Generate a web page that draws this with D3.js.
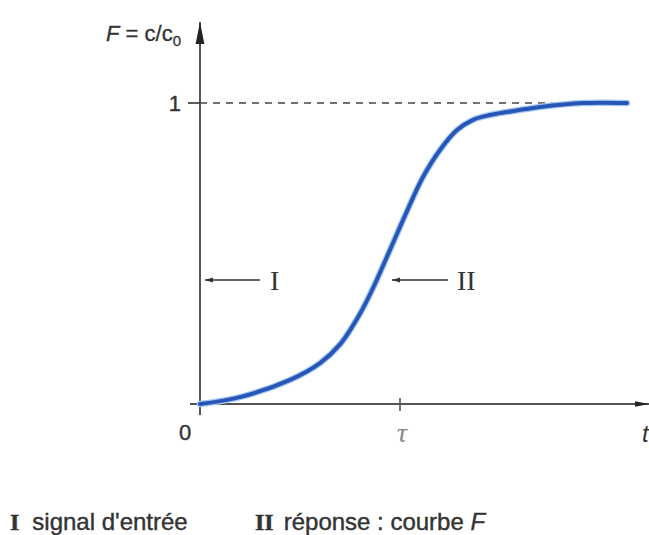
<!DOCTYPE html>
<html>
<head>
<meta charset="utf-8">
<script src="https://cdn.jsdelivr.net/npm/d3@7"></script>
<style>
  body { margin: 0; background: #fff; }
  svg { display: block; }
</style>
</head>
<body>
<svg id="chart" width="649" height="535"></svg>
<script>
// response curve F = c/c0, time in units of tau
const tValues = [0, 0.2, 0.45, 0.6, 0.7, 0.8, 0.865, 0.95, 1.035, 1.115, 1.2, 1.285, 1.365, 1.45, 1.535, 1.7, 1.915, 2.135];
const fValues = [0, 0.023, 0.08, 0.136, 0.198, 0.3, 0.385, 0.512, 0.641, 0.754, 0.844, 0.91, 0.944, 0.96, 0.97, 0.987, 1.0, 1.0];
const xTicks = [{ v: 0, label: "0" }, { v: 1, label: "τ" }];
const yTicks = [{ v: 1, label: "1" }];
const legendItems = ["signal d'entrée", "réponse : courbe "];

const svg = d3.select("#chart");
const x = d3.scaleLinear().domain([0, 1]).range([200, 400]);
const y = d3.scaleLinear().domain([0, 1]).range([404, 103]);

const axisColor = "#555";
const sans = "Liberation Sans, Arial, sans-serif";
const serif = "Liberation Serif, Times New Roman, serif";

// arrow heads
const defs = svg.append("defs");
function marker(id, len, fill) {
  defs.append("marker")
    .attr("id", id)
    .attr("viewBox", "0 0 10 10").attr("refX", 10).attr("refY", 5)
    .attr("markerWidth", len).attr("markerHeight", len).attr("markerUnits", "userSpaceOnUse")
    .attr("orient", "auto")
    .append("path").attr("d", "M0,3 L10,5 L0,7 Z").attr("fill", fill);
}
marker("yArrow", 22, "#222");
marker("xArrow", 14, "#222");
defs.append("marker")
  .attr("id", "smallArrow")
  .attr("viewBox", "0 0 10 10").attr("refX", 10).attr("refY", 5)
  .attr("markerWidth", 8).attr("markerHeight", 8).attr("markerUnits", "userSpaceOnUse")
  .attr("orient", "auto")
  .append("path").attr("d", "M0,2 L10,5 L0,8 Z").attr("fill", "#333");

// dashed asymptote F = 1
svg.append("line")
  .attr("x1", x(0)).attr("x2", x(2))
  .attr("y1", y(1)).attr("y2", y(1))
  .attr("stroke", "#444").attr("stroke-width", 1.6)
  .attr("stroke-dasharray", "7,6");

// axes
svg.append("line")
  .attr("x1", x(0)).attr("x2", x(0))
  .attr("y1", 415).attr("y2", 22)
  .attr("stroke", axisColor).attr("stroke-width", 2)
  .attr("marker-end", "url(#yArrow)");
svg.append("line")
  .attr("x1", 190).attr("x2", 649)
  .attr("y1", y(0)).attr("y2", y(0))
  .attr("stroke", axisColor).attr("stroke-width", 2)
  .attr("marker-end", "url(#xArrow)");

// ticks
svg.selectAll(".ytick").data(yTicks).enter().append("line")
  .attr("x1", x(0) - 12).attr("x2", x(0))
  .attr("y1", d => y(d.v)).attr("y2", d => y(d.v))
  .attr("stroke", "#333").attr("stroke-width", 1.6);
svg.selectAll(".ylab").data(yTicks).enter().append("text")
  .attr("x", x(0) - 19).attr("y", d => y(d.v) + 8)
  .attr("text-anchor", "end")
  .attr("font-family", sans).attr("font-size", 22).attr("fill", "#333")
  .attr("stroke", "#333").attr("stroke-width", 0.4)
  .text(d => d.label);

svg.selectAll(".xtick").data(xTicks.filter(d => d.v > 0)).enter().append("line")
  .attr("x1", d => x(d.v)).attr("x2", d => x(d.v))
  .attr("y1", y(0) - 6).attr("y2", y(0) + 7)
  .attr("stroke", "#555").attr("stroke-width", 1.6);
svg.selectAll(".xlab").data(xTicks).enter().append("text")
  .attr("x", d => d.v === 0 ? x(d.v) - 15 : x(d.v) + 2)
  .attr("y", d => d.v === 0 ? 440 : 442)
  .attr("text-anchor", "middle")
  .attr("font-family", d => d.v === 0 ? sans : serif)
  .attr("font-style", d => d.v === 0 ? "normal" : "italic")
  .attr("font-size", d => d.v === 0 ? 22 : 28)
  .attr("fill", d => d.v === 0 ? "#333" : "#888")
  .attr("stroke", d => d.v === 0 ? "#333" : "none").attr("stroke-width", 0.4)
  .text(d => d.label);

// axis name
const yName = svg.append("text")
  .attr("x", 181).attr("y", 41)
  .attr("text-anchor", "end")
  .attr("font-family", sans).attr("font-size", 22).attr("fill", "#333")
  .attr("stroke", "#333").attr("stroke-width", 0.3);
yName.append("tspan").attr("font-style", "italic").text("F");
yName.append("tspan").text(" = c/c");
yName.append("tspan").attr("font-size", 15).attr("dy", 5).text("0");

svg.append("text")
  .attr("x", 642).attr("y", 442)
  .attr("font-family", sans).attr("font-size", 24)
  .attr("font-style", "italic").attr("fill", "#333")
  .text("t");

// response curve
const curve = tValues.map((t, i) => [t, fValues[i]]);
const line = d3.line()
  .x(d => x(d[0]))
  .y(d => y(d[1]))
  .curve(d3.curveCatmullRom.alpha(0.5));
svg.append("path")
  .datum(curve)
  .attr("d", line)
  .attr("fill", "none")
  .attr("stroke", "#a6cbf2").attr("stroke-width", 6.5)
  .attr("stroke-linecap", "round");
svg.append("path")
  .datum(curve)
  .attr("d", line)
  .attr("fill", "none")
  .attr("stroke", "#2856b6").attr("stroke-width", 4)
  .attr("stroke-linecap", "round");

// pointer labels I and II
const pointers = [
  { x1: 260, x2: 205, label: "I", lx: 270 },
  { x1: 448, x2: 392, label: "II", lx: 457 }
];
svg.selectAll(".ptr").data(pointers).enter().append("line")
  .attr("x1", d => d.x1).attr("x2", d => d.x2)
  .attr("y1", 280).attr("y2", 280)
  .attr("stroke", "#333").attr("stroke-width", 1.4)
  .attr("marker-end", "url(#smallArrow)");
svg.selectAll(".ptrlab").data(pointers).enter().append("text")
  .attr("x", d => d.lx).attr("y", 290)
  .attr("font-family", serif).attr("font-size", 28).attr("fill", "#333")
  .text(d => d.label);

// legend at the bottom
const leg1 = svg.append("text").attr("x", 10).attr("y", 530)
  .attr("font-family", sans).attr("font-size", 24).attr("fill", "#333")
  .attr("stroke", "#333").attr("stroke-width", 0.4);
leg1.append("tspan").attr("font-family", serif).attr("font-weight", "bold").text("I");
leg1.append("tspan").attr("dx", 13).text(legendItems[0]);

const leg2 = svg.append("text").attr("x", 255).attr("y", 530)
  .attr("font-family", sans).attr("font-size", 24).attr("fill", "#333")
  .attr("stroke", "#333").attr("stroke-width", 0.4);
leg2.append("tspan").attr("font-family", serif).attr("font-weight", "bold").text("II");
leg2.append("tspan").attr("dx", 10).text(legendItems[1]);
leg2.append("tspan").attr("font-style", "italic").text("F");
</script>
</body>
</html>
